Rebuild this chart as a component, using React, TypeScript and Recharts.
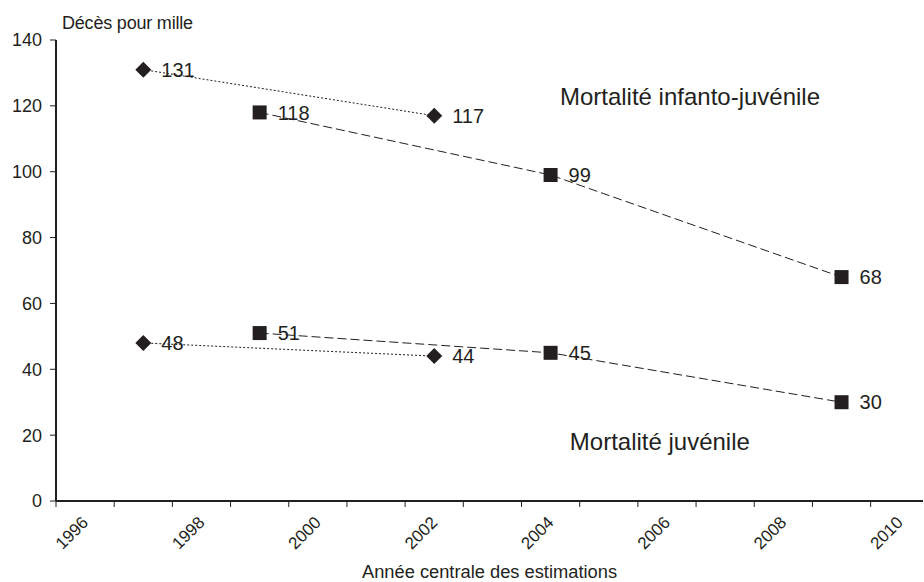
import { LineChart, Line, XAxis, YAxis, LabelList, ReferenceDot, Label } from 'recharts';

// années centrales des enquêtes
const yearsA = [1997.5, 2002.5];
const yearsB = [1999.5, 2004.5, 2009.5];

// mortalité infanto-juvénile
const infantoA = [131, 117];
const infantoB = [118, 99, 68];

// mortalité juvénile
const juvA = [48, 44];
const juvB = [51, 45, 30];

const xTicks = [1996, 1997, 1998, 1999, 2000, 2001, 2002, 2003, 2004, 2005, 2006, 2007, 2008, 2009, 2010];
const yTicks = [0, 20, 40, 60, 80, 100, 120, 140];

const build = (xs: number[], vs: number[]) => xs.map((x, i) => ({ x, v: vs[i] }));

const INK = '#231f20';
const FONT = '"Liberation Sans", Arial, sans-serif';

const Diamond = (props: any) => {
    const { cx, cy, index } = props;
    const s = 8;
    return <polygon key={`d-${index}`} points={`${cx},${cy - s} ${cx + s},${cy} ${cx},${cy + s} ${cx - s},${cy}`} fill={INK} />;
};

const Square = (props: any) => {
    const { cx, cy, index } = props;
    return <rect key={`s-${index}`} x={cx - 7} y={cy - 7} width={14} height={14} fill={INK} />;
};

const ValueLabel = (props: any) => {
    const { x, y, value } = props;
    return (
        <text x={x + 18} y={y} dy="0.36em" fill={INK} fontSize={20} fontFamily={FONT}>
            {value}
        </text>
    );
};

const XTick = (props: any) => {
    const { x, y, payload } = props;
    if (payload.value % 2 !== 0) return null;
    const cx = x + 16;
    const cy = y + 26;
    return (
        <text
            x={cx}
            y={cy}
            textAnchor="middle"
            dominantBaseline="central"
            transform={`rotate(-45 ${cx} ${cy})`}
            fill={INK}
            fontSize={17}
            fontFamily={FONT}
        >
            {payload.value}
        </text>
    );
};

export default function App() {
    return (
        <div style={{ position: 'absolute', left: 0, top: 0, width: 924, height: 582, background: '#fff' }}>
            <LineChart width={924} height={582} margin={{ top: 40, right: 1, left: 6, bottom: 0 }}>
                <XAxis
                    type="number"
                    dataKey="x"
                    domain={[1996, 2010.9]}
                    ticks={xTicks}
                    interval={0}
                    allowDataOverflow
                    height={81}
                    tickSize={6}
                    tickMargin={0}
                    tick={<XTick />}
                    stroke={INK}
                    strokeWidth={2}
                    tickLine={{ stroke: INK, strokeWidth: 1 }}
                >
                    <Label value="Année centrale des estimations" position="insideBottom" offset={4} fill={INK} fontSize={18.3} fontFamily={FONT} />
                </XAxis>
                <YAxis
                    type="number"
                    domain={[0, 140]}
                    ticks={yTicks}
                    width={50}
                    tickSize={6}
                    tickMargin={8}
                    stroke={INK}
                    strokeWidth={2}
                    tickLine={{ stroke: INK, strokeWidth: 1 }}
                    tick={{ fill: INK, fontSize: 18, fontFamily: FONT }}
                >
                    <Label
                        content={(p: any) => (
                            <text x={p.viewBox.x + p.viewBox.width + 6} y={p.viewBox.y - 17} dy="0.36em" fill={INK} fontSize={18} fontFamily={FONT} letterSpacing={-0.2}>
                                Décès pour mille
                            </text>
                        )}
                    />
                </YAxis>

                <Line data={build(yearsA, infantoA)} dataKey="v" stroke={INK} strokeWidth={1} strokeDasharray="2 2" dot={Diamond} activeDot={false} isAnimationActive={false}>
                    <LabelList dataKey="v" content={ValueLabel} />
                </Line>
                <Line data={build(yearsB, infantoB)} dataKey="v" stroke={INK} strokeWidth={1} strokeDasharray="9 4" dot={Square} activeDot={false} isAnimationActive={false}>
                    <LabelList dataKey="v" content={ValueLabel} />
                </Line>
                <Line data={build(yearsA, juvA)} dataKey="v" stroke={INK} strokeWidth={1} strokeDasharray="2 2" dot={Diamond} activeDot={false} isAnimationActive={false}>
                    <LabelList dataKey="v" content={ValueLabel} />
                </Line>
                <Line data={build(yearsB, juvB)} dataKey="v" stroke={INK} strokeWidth={1} strokeDasharray="9 4" dot={Square} activeDot={false} isAnimationActive={false}>
                    <LabelList dataKey="v" content={ValueLabel} />
                </Line>

                <ReferenceDot x={2004.66} y={122.7} r={0} fill="none" stroke="none"
                    label={{ value: 'Mortalité infanto-juvénile', position: 'right', offset: 0, fill: INK, fontSize: 24, fontFamily: FONT }} />
                <ReferenceDot x={2004.83} y={18.2} r={0} fill="none" stroke="none"
                    label={{ value: 'Mortalité juvénile', position: 'right', offset: 0, fill: INK, fontSize: 24, fontFamily: FONT }} />
            </LineChart>
        </div>
    );
}
